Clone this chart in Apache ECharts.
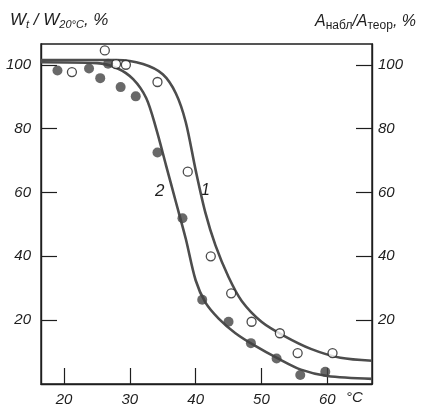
<!DOCTYPE html>
<html>
<head>
<meta charset="utf-8">
<script src="https://cdn.jsdelivr.net/npm/echarts@6/dist/echarts.min.js"></script>
<style>
  html, body { margin: 0; padding: 0; background: #fff; }
  #chart { width: 424px; height: 408px; }
</style>
</head>
<body>
<div id="chart"></div>
<script>
// ticks
const xTicks = [20, 30, 40, 50, 60]
const yTicks = [20, 40, 60, 80, 100]

// open circles (curve 1)
const openT = [21.2, 26.2, 27.9, 29.4, 34.2, 38.8, 42.3, 45.4, 48.5, 52.8, 55.5, 60.8]
const openV = [97.7, 104.5, 100.2, 100, 94.6, 66.5, 40, 28.4, 19.5, 15.9, 9.7, 9.7]

// filled circles (curve 2)
const fillT = [19.0, 23.8, 25.5, 26.7, 28.6, 30.9, 34.2, 38.0, 41.0, 45.0, 48.4, 52.3, 55.9, 59.7]
const fillV = [98.2, 98.8, 95.8, 100.3, 93, 90.1, 72.5, 51.9, 26.4, 19.5, 12.8, 8.0, 2.8, 3.8]

// curve 1
const line1T = [16.5, 28, 32, 35, 37, 38.5, 40, 41.5, 43, 45, 47, 50, 53.5, 57.5, 62, 66.8]
const line1V = [101.5, 101.5, 100.2, 97, 91, 82, 67, 53.5, 43.5, 33.5, 26, 19.5, 15, 11, 8.2, 7.3]

// curve 2
const line2T = [16.5, 25, 28, 30.5, 32.5, 34, 35.5, 37, 38.5, 40, 41.5, 43.5, 46, 49, 52.5, 56, 60, 66.8]
const line2V = [100.8, 100.5, 99, 95.5, 89.5, 80, 68.5, 57, 45.5, 32.5, 25.5, 20.5, 16, 12, 8, 4.5, 2.5, 1.6]

const zip = (a, b) => a.map((v, i) => [v, b[i]])

const ink = '#1e1e1e'
const font = 'Liberation Sans Narrow, Liberation Sans, sans-serif'

const chart = echarts.init(document.getElementById('chart'))

const labelStyle = {
    color: ink,
    fontStyle: 'italic',
    fontFamily: font,
    fontSize: 15
}

chart.setOption({
    animation: false,
    grid: {
        left: 41, right: 52, top: 44, bottom: 24,
        show: true, borderColor: ink, borderWidth: 1.4
    },
    xAxis: {
        type: 'value',
        min: 16.5,
        max: 66.8,
        axisLine: { show: true, lineStyle: { color: ink, width: 1.4 } },
        axisTick: { show: true, inside: true, length: 16, customValues: xTicks, lineStyle: { color: ink, width: 1.2 } },
        axisLabel: { ...labelStyle, margin: 8, customValues: xTicks },
        splitLine: { show: false }
    },
    yAxis: [
        {
            type: 'value',
            min: 0,
            max: 106.5,
            axisLine: { show: true, lineStyle: { color: ink, width: 1.4 } },
            axisTick: { show: true, inside: true, length: 16, customValues: yTicks, lineStyle: { color: ink, width: 1.2 } },
            axisLabel: { ...labelStyle, margin: 10, customValues: yTicks },
            splitLine: { show: false }
        },
        {
            type: 'value',
            position: 'right',
            min: 0,
            max: 106.5,
            axisLine: { show: true, lineStyle: { color: ink, width: 1.4 } },
            axisTick: { show: true, inside: true, length: 16, customValues: yTicks, lineStyle: { color: ink, width: 1.2 } },
            axisLabel: { ...labelStyle, margin: 6, customValues: yTicks },
            splitLine: { show: false }
        }
    ],
    series: [
        {
            type: 'line',
            data: zip(line1T, line1V),
            smooth: 0.3,
            showSymbol: false,
            lineStyle: { color: '#4d4d4d', width: 2.6 },
            z: 2
        },
        {
            type: 'line',
            data: zip(line2T, line2V),
            smooth: 0.3,
            showSymbol: false,
            lineStyle: { color: '#4d4d4d', width: 2.6 },
            z: 2
        },
        {
            type: 'scatter',
            data: zip(openT, openV),
            symbolSize: 9,
            itemStyle: { color: '#fff', borderColor: ink, borderWidth: 1.3 },
            z: 3
        },
        {
            type: 'scatter',
            data: zip(fillT, fillV),
            symbolSize: 10,
            itemStyle: { color: '#444' },
            z: 3
        }
    ],
    graphic: [
        {
            type: 'text', left: 10, top: 12,
            style: {
                text: '{w|W}{s|t}{w| / W}{s|20°C}{w|, %}',
                rich: {
                    w: { fontFamily: font, fontStyle: 'italic', fontSize: 17, fill: ink },
                    s: { fontFamily: font, fontStyle: 'italic', fontSize: 11, fill: ink, verticalAlign: 'bottom', padding: [8, 0, 0, 0] }
                }
            }
        },
        {
            type: 'text', right: 8, top: 14,
            style: {
                text: '{w|A}{s|набл}{w|/A}{s|теор}{w|, %}',
                rich: {
                    w: { fontFamily: font, fontStyle: 'italic', fontSize: 16, fill: ink },
                    s: { fontFamily: font, fontSize: 12, fill: ink, verticalAlign: 'bottom', padding: [8, 0, 0, 0] }
                }
            }
        },
        {
            type: 'text', left: 346, top: 390,
            style: { text: '°C', font: 'italic 15px ' + font, fill: ink }
        },
        {
            type: 'text', left: 201, top: 183,
            style: { text: '1', font: 'italic 16px ' + font, fill: ink }
        },
        {
            type: 'text', left: 155, top: 183,
            style: { text: '2', font: 'italic 17px ' + font, fill: ink }
        }
    ]
})
</script>
</body>
</html>
